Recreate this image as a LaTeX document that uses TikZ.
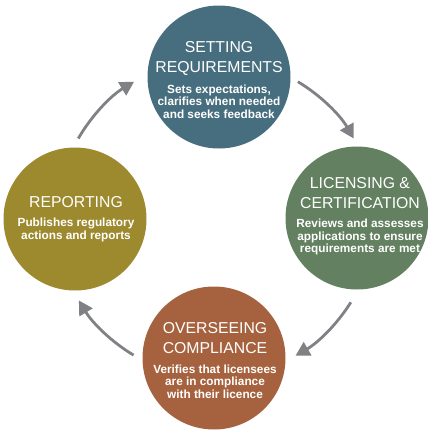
\documentclass[tikz,border=0pt]{standalone}
\usepackage{fontspec}
\setmainfont{Liberation Sans}
\usetikzlibrary{arrows.meta}
\definecolor{cteal}{RGB}{71,110,126}
\definecolor{cgreen}{RGB}{99,128,96}
\definecolor{cbrown}{RGB}{166,98,62}
\definecolor{colive}{RGB}{157,137,46}
\definecolor{carrow}{RGB}{128,129,132}
\tikzset{
  circ/.style={circle, draw=none, minimum size=143pt, inner sep=0pt},
  ttl/.style={text=white, align=center, inner sep=0pt, font=\fontsize{15.8}{20}\selectfont},
  sub/.style={text=white, align=center, inner sep=0pt, font=\fontsize{11.8}{12.7}\selectfont\bfseries},
  arr/.style={draw=carrow, line width=2.8pt, -{Triangle[length=14pt,width=15pt]}}
}
\begin{document}
\begin{tikzpicture}[x=1pt,y=-1pt]
\useasboundingbox (0,0) rectangle (428,431);
\node[circ, fill=cteal]  (setc) at (219,77) {};
\node[circ, fill=cgreen] (licc) at (357,218) {};
\node[circ, fill=cbrown] (ovec) at (214,358) {};
\node[circ, fill=colive] (repc) at (75,219) {};

\node[ttl] (sett) at (219,58) {SETTING\\REQUIREMENTS};
\node[sub] (sets) at (219,101.5) {Sets expectations,\\clarifies when needed\\and seeks feedback};

\node[ttl] (lict) at (360,193) {LICENSING \&\\CERTIFICATION};
\node[sub] (lics) at (360,237) {Reviews and assesses\\applications to ensure\\requirements are met};

\node[ttl] (ovet) at (215,338) {OVERSEEING\\COMPLIANCE};
\node[sub] (oves) at (215,381.5) {Verifies that licensees\\are in compliance\\with their licence};

\node[ttl] (rept) at (76,202) {REPORTING};
\node[sub] (reps) at (76,230) {Publishes regulatory\\actions and reports};

\coordinate (c) at (216,218);
\coordinate (a1) at ([shift={(-150:159)}]c);
\coordinate (a2) at ([shift={(-59:159)}]c);
\coordinate (a3) at ([shift={(32:159)}]c);
\coordinate (a4) at ([shift={(121:160)}]c);
\draw[arr] (a1) arc[start angle=-150, end angle=-121, radius=159];
\draw[arr] (a2) arc[start angle=-59, end angle=-30, radius=159];
\draw[arr] (a3) arc[start angle=32, end angle=60, radius=159];
\draw[arr] (a4) arc[start angle=121, end angle=149, radius=160];
\end{tikzpicture}
\end{document}
